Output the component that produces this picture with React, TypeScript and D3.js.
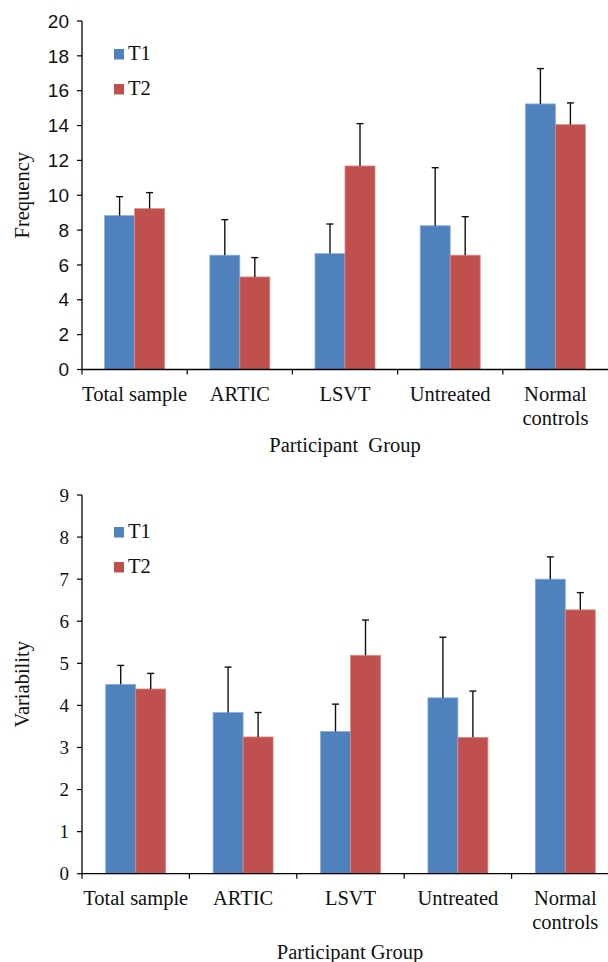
import * as d3 from "d3";

// participant groups and the two sessions
const groups = ["Total sample", "ARTIC", "LSVT", "Untreated", "Normal controls"];
const sessions = ["T1", "T2"];

// frequency: means and SD (upper error bar)
const freqT1 = [8.83, 6.56, 6.65, 8.25, 15.24];
const freqT2 = [9.23, 5.31, 11.68, 6.56, 14.05];
const freqSdT1 = [1.09, 2.04, 1.7, 3.33, 2.03];
const freqSdT2 = [0.92, 1.11, 2.43, 2.21, 1.25];

// variability: means and SD
const varT1 = [4.5, 3.83, 3.38, 4.18, 7.0];
const varT2 = [4.39, 3.25, 5.19, 3.24, 6.27];
const varSdT1 = [0.45, 1.08, 0.65, 1.44, 0.53];
const varSdT2 = [0.37, 0.58, 0.84, 1.1, 0.41];

const freqTicks = [0, 2, 4, 6, 8, 10, 12, 14, 16, 18, 20];
const varTicks = [0, 1, 2, 3, 4, 5, 6, 7, 8, 9];

const colors = ["#4F81BD", "#C0504D"];
const edges = ["#8AAEDB", "#DB8A88"];
const serif = "'Liberation Serif', 'Times New Roman', serif";
const sans = "'Liberation Sans', Arial, sans-serif";

type PanelProps = {
  top: number;
  bottom: number;
  xEnd: number;
  maxY: number;
  ticks: number[];
  t1: number[];
  t2: number[];
  sd1: number[];
  sd2: number[];
  yTitle: string;
  xTitle: string;
  tickFont: string;
  tickSize: number;
  legendTop: number;
  xTitleY: number;
  xTitleX: number;
};

const Panel = (p: PanelProps) => {
  const left = 82;
  const x = d3.scaleBand().domain(groups).range([left, p.xEnd]);
  const y = d3.scaleLinear().domain([0, p.maxY]).range([p.bottom, p.top]);
  const bw = 30;
  const series = [
    { vals: p.t1, sd: p.sd1 },
    { vals: p.t2, sd: p.sd2 },
  ];
  const labelY = p.bottom + 31;

  return (
    <g>
      {/* bars */}
      {series.map((s, si) =>
        groups.map((g, gi) => {
          const cx = (x(g) as number) + x.bandwidth() / 2;
          const x0 = cx - bw + si * bw;
          return (
            <rect
              key={`b${si}-${gi}`}
              x={x0}
              y={y(s.vals[gi])}
              width={bw}
              height={p.bottom - y(s.vals[gi])}
              fill={colors[si]}
              stroke={edges[si]}
              strokeWidth={0.8}
            />
          );
        })
      )}
      {/* error bars */}
      {series.map((s, si) =>
        groups.map((g, gi) => {
          const cx = (x(g) as number) + x.bandwidth() / 2 - bw / 2 + si * bw;
          const y0 = y(s.vals[gi]);
          const y1 = y(s.vals[gi] + s.sd[gi]);
          return (
            <g key={`e${si}-${gi}`} stroke="#111" strokeWidth={1.4}>
              <line x1={cx} x2={cx} y1={y0} y2={y1} />
              <line x1={cx - 3.5} x2={cx + 3.5} y1={y1} y2={y1} />
            </g>
          );
        })
      )}
      {/* y axis */}
      <line x1={left} x2={left} y1={p.top} y2={p.bottom} stroke="#000" strokeWidth={1.3} />
      {p.ticks.map((t) => (
        <g key={`yt${t}`}>
          <line x1={left - 5} x2={left} y1={y(t)} y2={y(t)} stroke="#000" strokeWidth={1.2} />
          <text
            x={69}
            y={y(t)}
            dy="0.35em"
            textAnchor="end"
            fontFamily={p.tickFont}
            fontSize={p.tickSize}
            fill="#111"
          >
            {t}
          </text>
        </g>
      ))}
      {/* x axis */}
      <line x1={left} x2={608} y1={p.bottom} y2={p.bottom} stroke="#000" strokeWidth={1.3} />
      {groups.map((g) => (
        <line
          key={`xt${g}`}
          x1={x(g) as number}
          x2={x(g) as number}
          y1={p.bottom}
          y2={p.bottom + 5}
          stroke="#000"
          strokeWidth={1.2}
        />
      ))}
      {groups.map((g) => {
        const cx = (x(g) as number) + x.bandwidth() / 2;
        const lines = g === "Normal controls" ? ["Normal", "controls"] : [g];
        return (
          <text
            key={`xl${g}`}
            x={cx}
            y={labelY}
            textAnchor="middle"
            fontFamily={serif}
            fontSize={20.5}
            fill="#111"
          >
            {lines.map((l, i) => (
              <tspan key={l} x={cx} dy={i === 0 ? 0 : 24}>
                {l}
              </tspan>
            ))}
          </text>
        );
      })}
      {/* axis titles */}
      <text
        transform={`translate(29,${(p.top + p.bottom) / 2}) rotate(-90)`}
        textAnchor="middle"
        fontFamily={serif}
        fontSize={20.5}
        fill="#111"
      >
        {p.yTitle}
      </text>
      <text
        x={p.xTitleX}
        y={p.xTitleY}
        textAnchor="middle"
        fontFamily={serif}
        fontSize={20.5}
        fill="#111"
        style={{ whiteSpace: "pre" }}
      >
        {p.xTitle}
      </text>
      {/* legend */}
      {sessions.map((s, i) => (
        <g key={`lg${s}`}>
          <rect x={114} y={p.legendTop + i * 35} width={10} height={10.5} fill={colors[i]} />
          <text
            x={128}
            y={p.legendTop + i * 35 + 11}
            fontFamily={serif}
            fontSize={20.5}
            fill="#111"
          >
            {s}
          </text>
        </g>
      ))}
    </g>
  );
};

export default function App() {
  return (
    <svg
      width={608}
      height={962}
      style={{ position: "absolute", left: 0, top: 0, background: "#fff" }}
    >
      <Panel
        top={21}
        bottom={369.5}
        xEnd={608}
        maxY={20}
        ticks={freqTicks}
        t1={freqT1}
        t2={freqT2}
        sd1={freqSdT1}
        sd2={freqSdT2}
        yTitle="Frequency"
        xTitle={"Participant  Group"}
        tickFont={sans}
        tickSize={19}
        legendTop={49}
        xTitleY={452}
        xTitleX={345}
      />
      <Panel
        top={495}
        bottom={873.7}
        xEnd={619}
        maxY={9}
        ticks={varTicks}
        t1={varT1}
        t2={varT2}
        sd1={varSdT1}
        sd2={varSdT2}
        yTitle="Variability"
        xTitle="Participant Group"
        tickFont={serif}
        tickSize={19}
        legendTop={527}
        xTitleY={959}
        xTitleX={350}
      />
    </svg>
  );
}
